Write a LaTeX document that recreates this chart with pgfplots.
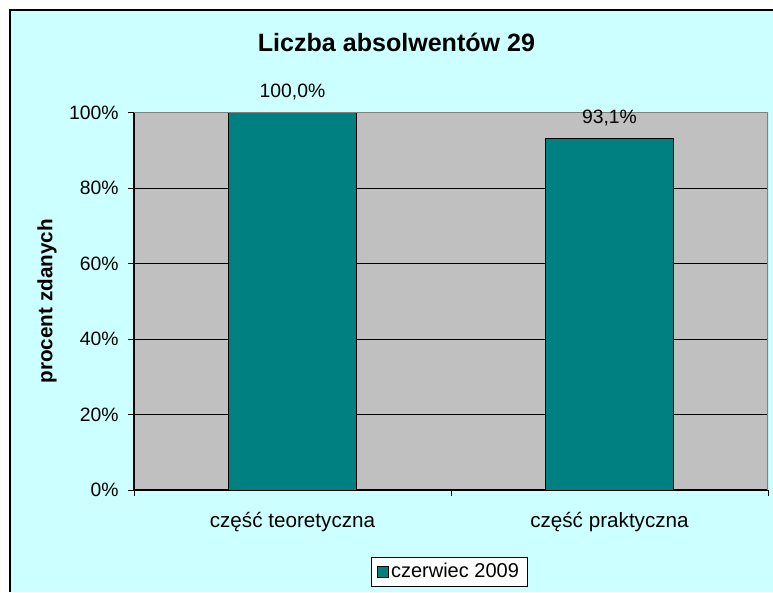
\documentclass[border=0pt]{standalone}
\usepackage{pgfplots}
\pgfplotsset{compat=1.18}
\usepackage{fontspec}
\setmainfont{Liberation Sans}
\definecolor{bgcyan}{HTML}{CCFFFF}
\definecolor{plotgray}{HTML}{C0C0C0}
\definecolor{barteal}{HTML}{008080}
\definecolor{framegray}{HTML}{808080}
\begin{document}
\begin{tikzpicture}[x=0.75pt,y=0.75pt]
\fill[white] (0,0) rectangle (773,592);
\fill[bgcyan] (10,0) rectangle (773,582);
\draw[black, line width=1.2pt] (10,0) -- (10,582) -- (773,582);
\begin{axis}[
  at={(100.5pt,76.5pt)}, anchor=south west,
  scale only axis, width=475.5pt, height=283pt,
  xmin=-0.5, xmax=1.5, ymin=0, ymax=100,
  axis background/.style={fill=plotgray},
  /pgf/number format/assume math mode=true,
  ybar, bar width=96pt, bar shift=0pt,
  axis x line*=bottom, axis y line*=left,
  axis line style={black, line width=0.8pt, -},
  tick align=outside, major tick length=4.5pt,
  tick style={black, line width=0.6pt},
  xtick={0,1}, xticklabels={część teoretyczna, część praktyczna},
  major x tick style={draw=none},
  extra x ticks={-0.5,0.5,1.5}, extra x tick labels={},
  extra x tick style={major x tick style={draw=black}, grid=none},
  ytick={0,20,40,60,80,100},
  yticklabel={\pgfmathprintnumber{\tick}\%},
  ymajorgrids, grid style={black, line width=0.6pt},
  ticklabel style={font=\fontsize{14.5}{17}\selectfont},
  xticklabel style={font=\fontsize{15.5}{18}\selectfont, yshift=-9pt},
  yticklabel style={xshift=-3.5pt},
  title={Liczba absolwentów 29},
  title style={font=\bfseries\fontsize{18.8}{22}\selectfont, at={(rel axis cs:0.414,1.164)}, anchor=center},
  ylabel={procent zdanych},
  ylabel style={font=\bfseries\fontsize{15.5}{18}\selectfont, at={(rel axis cs:-0.137,0.5)}, anchor=center},
  nodes near coords={\pgfmathprintnumber[fixed,fixed zerofill,precision=1,use comma,assume math mode=true]{\pgfplotspointmeta}\%},
  nodes near coords style={font=\fontsize{14.5}{17}\selectfont, yshift=6pt},
  legend style={at={(rel axis cs:0.497,-0.2165)}, anchor=center, draw=black, fill=white,
     font=\fontsize{15}{18}\selectfont, inner xsep=4pt, inner ysep=3pt},
  legend image code/.code={\draw[fill=barteal,draw=black] (0pt,-4pt) rectangle (8.25pt,4.25pt);},
]
\addplot[fill=barteal, draw=black, line width=0.6pt] coordinates {(0,100) (1,93.1)};
\addlegendentry{czerwiec 2009}
\draw[framegray, line width=0.8pt] (rel axis cs:0,1) -- (rel axis cs:1,1) -- (rel axis cs:1,0);
\end{axis}
\pgfresetboundingbox
\path (0,0) rectangle (773,592);
\end{tikzpicture}
\end{document}
